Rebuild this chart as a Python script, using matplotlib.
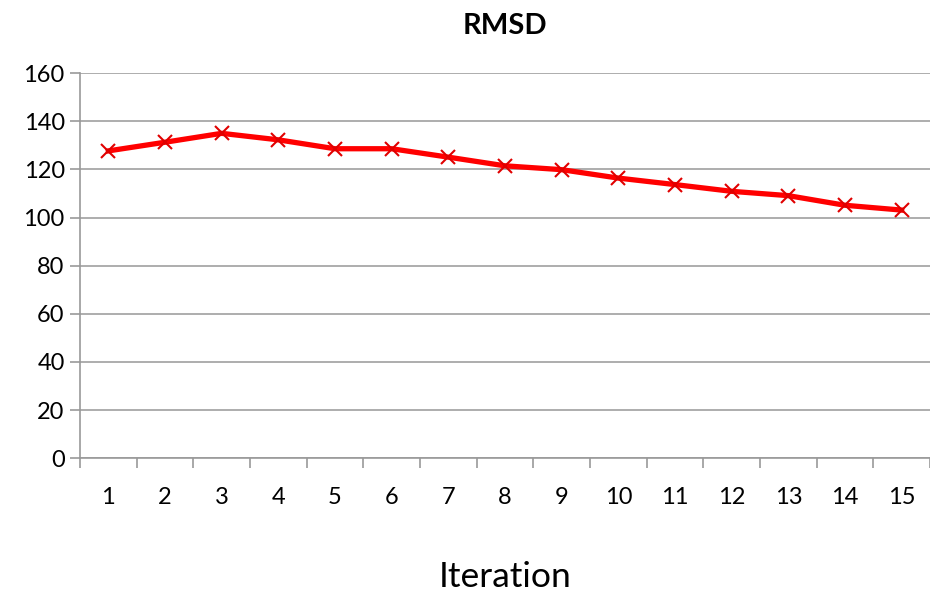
import matplotlib.pyplot as plt
import numpy as np

plt.rcParams['font.family'] = ['Lato', 'DejaVu Sans']

iterations = list(range(1, 16))
rmsd = [127.7, 131.3, 135.0, 132.3, 128.6, 128.6, 125.1, 121.5, 119.9,
        116.4, 113.7, 110.9, 109.1, 105.1, 103.1]
y_ticks = [0, 20, 40, 60, 80, 100, 120, 140, 160]

fig = plt.figure(figsize=(9.3, 5.95), dpi=100)
ax = fig.add_axes([0.086, 0.230, 0.914, 0.647])

ax.plot(iterations, rmsd, color="#ff0000", linewidth=3.8, marker="x",
        markersize=10, markeredgewidth=1.5, markeredgecolor="#e00000")

ax.set_xlim(0.5, 15.5)
ax.set_ylim(0, 160)
ax.set_yticks(y_ticks)
ax.yaxis.grid(True, color="#a0a0a0", linewidth=1.2)
ax.set_axisbelow(True)

# category style: ticks between categories, labels centred
ax.set_xticks(np.arange(0.5, 16, 1))
ax.set_xticklabels([])
ax.set_xticks(iterations, minor=True)
ax.set_xticklabels([str(i) for i in iterations], minor=True, fontsize=17)
ax.tick_params(axis="x", which="major", length=7, color="#999999", width=1.2)
ax.tick_params(axis="x", which="minor", length=0, pad=21)
ax.tick_params(axis="y", length=7, color="#999999", width=1.2, labelsize=17, pad=4)

for s in ["top", "right"]:
    ax.spines[s].set_visible(False)
for s in ["left", "bottom"]:
    ax.spines[s].set_color("#999999")
    ax.spines[s].set_linewidth(1.2)

ax.set_title("RMSD", fontsize=21, fontweight="bold", pad=28)
ax.set_xlabel("Iteration", fontsize=25.5, labelpad=38)

fig.savefig("out.png", dpi=100)
